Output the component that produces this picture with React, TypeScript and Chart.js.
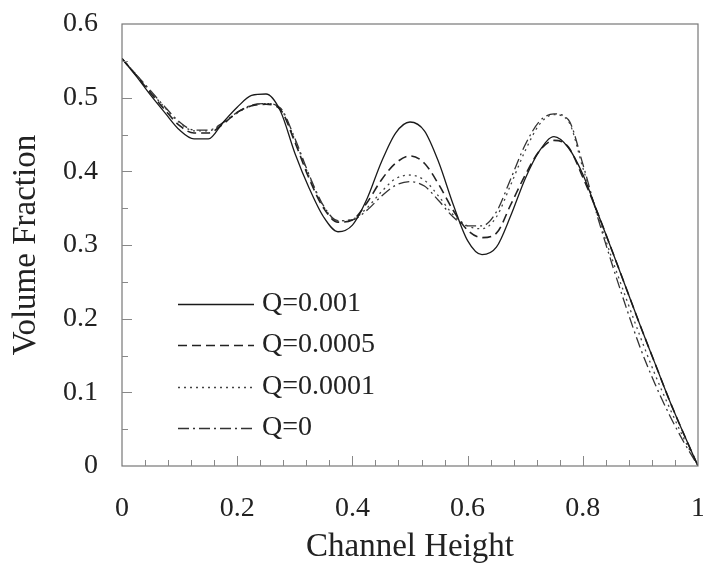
import React, { useEffect, useRef } from "react";
import { Chart, registerables } from "chart.js";

Chart.register(...registerables);

const channelHeight = [0, 0.025, 0.05, 0.075, 0.1, 0.125, 0.15, 0.175, 0.2, 0.225, 0.25, 0.275, 0.3, 0.325, 0.35, 0.375, 0.4, 0.425, 0.45, 0.475, 0.5, 0.525, 0.55, 0.575, 0.6, 0.625, 0.65, 0.675, 0.7, 0.725, 0.75, 0.775, 0.8, 0.825, 0.85, 0.875, 0.9, 0.925, 0.95, 0.975, 1];

const q001 = [0.553, 0.529, 0.503, 0.479, 0.456, 0.444, 0.444, 0.466, 0.487, 0.503, 0.505, 0.482, 0.425, 0.377, 0.338, 0.318, 0.327, 0.362, 0.412, 0.452, 0.467, 0.455, 0.412, 0.355, 0.306, 0.287, 0.297, 0.340, 0.390, 0.428, 0.447, 0.432, 0.396, 0.345, 0.294, 0.242, 0.190, 0.140, 0.090, 0.044, 0.000];
const q0005 = [0.553, 0.530, 0.506, 0.483, 0.462, 0.452, 0.452, 0.464, 0.480, 0.489, 0.491, 0.484, 0.440, 0.390, 0.350, 0.331, 0.334, 0.357, 0.388, 0.411, 0.421, 0.411, 0.382, 0.347, 0.320, 0.310, 0.316, 0.355, 0.395, 0.428, 0.442, 0.433, 0.392, 0.345, 0.294, 0.242, 0.190, 0.140, 0.090, 0.044, 0.000];
const q0001 = [0.553, 0.531, 0.508, 0.486, 0.466, 0.455, 0.455, 0.465, 0.479, 0.489, 0.492, 0.485, 0.443, 0.393, 0.352, 0.333, 0.335, 0.350, 0.372, 0.390, 0.395, 0.388, 0.366, 0.341, 0.326, 0.322, 0.338, 0.382, 0.428, 0.464, 0.477, 0.468, 0.405, 0.342, 0.283, 0.228, 0.175, 0.125, 0.080, 0.038, 0.000];
const q0 = [0.553, 0.531, 0.509, 0.487, 0.467, 0.456, 0.456, 0.466, 0.480, 0.490, 0.492, 0.486, 0.445, 0.395, 0.353, 0.333, 0.334, 0.347, 0.366, 0.381, 0.386, 0.380, 0.360, 0.338, 0.326, 0.326, 0.345, 0.390, 0.436, 0.468, 0.478, 0.470, 0.410, 0.340, 0.276, 0.216, 0.160, 0.112, 0.070, 0.033, 0.000];

const seriesLabels = ["Q=0.001", "Q=0.0005", "Q=0.0001", "Q=0"];
const xTickLabels = [0, 0.2, 0.4, 0.6, 0.8, 1];
const yTickLabels = [0, 0.1, 0.2, 0.3, 0.4, 0.5, 0.6];

const FONT = "'Liberation Serif', 'Times New Roman', serif";

const framePlugin = {
  id: "frameAndTicks",
  afterDraw(chart: any) {
    const { ctx, chartArea } = chart;
    const xs = chart.scales.x;
    const ys = chart.scales.y;
    ctx.save();
    ctx.strokeStyle = "#777";
    ctx.lineWidth = 1.2;
    ctx.strokeRect(chartArea.left, chartArea.top, chartArea.right - chartArea.left, chartArea.bottom - chartArea.top);
    ctx.lineWidth = 1;
    ctx.strokeStyle = "#888";
    for (let i = 1; i < 25; i++) {
      const v = i * 0.04;
      const px = Math.round(xs.getPixelForValue(v)) + 0.5;
      const major = i % 5 === 0;
      ctx.beginPath();
      ctx.moveTo(px, chartArea.bottom);
      ctx.lineTo(px, chartArea.bottom - (major ? 10 : 6));
      ctx.stroke();
    }
    for (let i = 1; i < 12; i++) {
      const v = i * 0.05;
      const py = Math.round(ys.getPixelForValue(v)) + 0.5;
      const major = i % 2 === 0;
      ctx.beginPath();
      ctx.moveTo(chartArea.left, py);
      ctx.lineTo(chartArea.left + (major ? 10 : 6), py);
      ctx.stroke();
    }
    const rows = [304, 345, 387, 428];
    chart.data.datasets.forEach((ds: any, i: number) => {
      const y = rows[i] + 0.5;
      ctx.beginPath();
      ctx.setLineDash(ds.borderDash || []);
      ctx.strokeStyle = ds.borderColor;
      ctx.lineWidth = ds.borderWidth;
      ctx.moveTo(178, y);
      ctx.lineTo(254, y);
      ctx.stroke();
      ctx.setLineDash([]);
      ctx.fillStyle = "#222";
      ctx.font = `28px ${FONT}`;
      ctx.textBaseline = "middle";
      ctx.textAlign = "left";
      ctx.fillText(ds.label, 262, rows[i]);
    });
    ctx.restore();
  },
};

const zeroPad = (s: any) => {
  s.paddingLeft = 0;
  s.paddingRight = 0;
  s.paddingTop = 0;
  s.paddingBottom = 0;
};

export default function App() {
  const ref = useRef<HTMLCanvasElement>(null);
  useEffect(() => {
    document.body.style.margin = "0";
    const mk = (label: string, data: number[], dash: number[], width: number, color: string) => ({
      label,
      data: channelHeight.map((x, i) => ({ x, y: data[i] })),
      borderColor: color,
      borderWidth: width,
      borderDash: dash,
      pointRadius: 0,
      fill: false,
      cubicInterpolationMode: "monotone" as const,
    });
    const chart = new Chart(ref.current!, {
      type: "line",
      data: {
        datasets: [
          mk(seriesLabels[0], q001, [], 1.3, "#1a1a1a"),
          mk(seriesLabels[1], q0005, [9, 5], 1.6, "#222"),
          mk(seriesLabels[2], q0001, [2, 4], 1.3, "#444"),
          mk(seriesLabels[3], q0, [11, 4, 2, 4], 1.3, "#333"),
        ],
      },
      options: {
        animation: false,
        responsive: false,
        layout: { padding: { top: 24, right: 5, left: 0, bottom: 0 } },
        plugins: { legend: { display: false }, tooltip: { enabled: false } },
        scales: {
          x: {
            type: "linear",
            min: 0,
            max: 1,
            afterFit: (s: any) => { s.height = 97; zeroPad(s); },
            afterBuildTicks: (s: any) => { s.ticks = xTickLabels.map((v) => ({ value: v })); },
            grid: { display: false, drawTicks: false },
            border: { display: false },
            ticks: {
              padding: 26,
              color: "#222",
              font: { family: FONT, size: 28 },
              callback: (v: any) => String(v),
              maxRotation: 0,
            },
            title: {
              display: true,
              text: "Channel Height",
              color: "#222",
              font: { family: FONT, size: 33 },
              padding: { top: 0, bottom: -4 },
            },
          },
          y: {
            type: "linear",
            min: 0,
            max: 0.6,
            afterFit: (s: any) => { s.width = 122; zeroPad(s); },
            afterBuildTicks: (s: any) => { s.ticks = yTickLabels.map((v) => ({ value: v })); },
            grid: { display: false, drawTicks: false },
            border: { display: false },
            ticks: {
              padding: 24,
              color: "#222",
              font: { family: FONT, size: 28 },
              callback: (v: any) => String(v),
            },
            title: {
              display: true,
              text: "Volume Fraction",
              color: "#222",
              font: { family: FONT, size: 33 },
              padding: { top: 7, bottom: 0 },
            },
          },
        },
      },
      plugins: [framePlugin],
    });
    return () => chart.destroy();
  }, []);
  return <canvas ref={ref} width={703} height={563} style={{ display: "block" }} />;
}
